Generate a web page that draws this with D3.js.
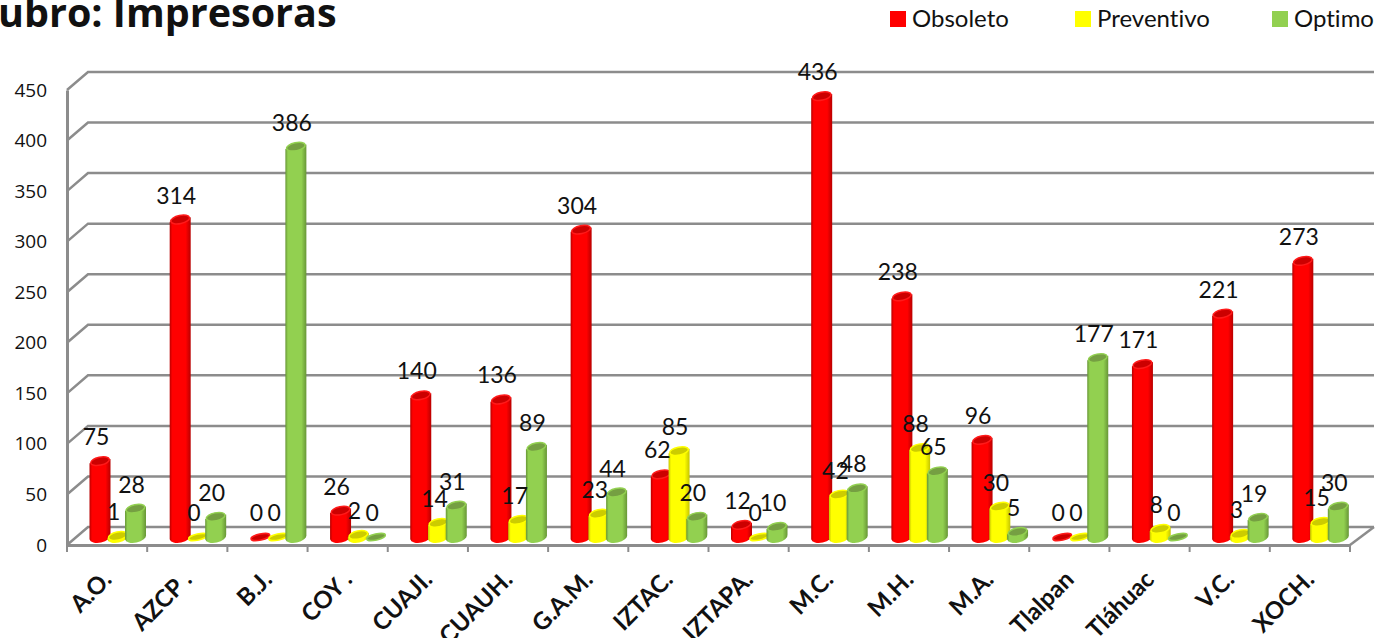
<!DOCTYPE html>
<html lang="en">
<head>
<meta charset="UTF-8">
<title>Impresoras</title>
<script src="https://d3js.org/d3.v7.min.js"></script>
<style>
  html, body { margin: 0; padding: 0; background: #fff; overflow: hidden; }
  svg { display: block; }
  text { font-family: Lato, "Open Sans", sans-serif; fill: #111; font-variant-ligatures: none; }
</style>
</head>
<body>
<script>
// data
var categories = ["A.O.", "AZCP .", "B.J.", "COY .", "CUAJI.", "CUAUH.", "G.A.M.", "IZTAC.", "IZTAPA.", "M.C.", "M.H.", "M.A.", "Tlalpan", "Tláhuac", "V.C.", "XOCH."];
var obsoleto = [75, 314, 0, 26, 140, 136, 304, 62, 12, 436, 238, 96, 0, 171, 221, 273];
var preventivo = [1, 0, 0, 2, 14, 17, 23, 85, 0, 42, 88, 30, 0, 8, 3, 15];
var optimo = [28, 20, 386, 0, 31, 89, 44, 20, 10, 48, 65, 5, 177, 0, 19, 30];
var seriesNames = ["Obsoleto", "Preventivo", "Optimo"];
var seriesValues = [obsoleto, preventivo, optimo];
var yTicks = [0, 50, 100, 150, 200, 250, 300, 350, 400, 450];

var palette = {
  Obsoleto: { main: "#ff0000", edge: "#b80000", top: "#cc0000", rim: "#ff1a1a" },
  Preventivo: { main: "#ffff00", edge: "#c4c400", top: "#cccc00", rim: "#ffff00" },
  Optimo: { main: "#92d050", edge: "#679636", top: "#759f42", rim: "#92d050" }
};

var width = 1379, height = 638;
var depthX = 21, depthY = 18, axisColor = "#8c8c8c";

var svg = d3.select("body").append("svg").attr("width", width).attr("height", height);

// front plane scales, the walls and the bars are shifted into depth from these
var x = d3.scaleBand().domain(categories).range([67, 1350]);
var y = d3.scaleLinear().domain([0, 450]).range([545, 90]);
var inner = d3.scalePoint().domain(seriesNames).range([33, 68.5]);
var barBaseShift = -8;
var barW = 21, rx = barW / 2, ry = 5.5, tilt = -12;

var defs = svg.append("defs");
seriesNames.forEach(function (s, i) {
  var g = defs.append("linearGradient").attr("id", "cyl" + i);
  g.append("stop").attr("offset", "0%").attr("stop-color", palette[s].edge);
  g.append("stop").attr("offset", "12%").attr("stop-color", palette[s].main);
  g.append("stop").attr("offset", "76%").attr("stop-color", palette[s].main);
  g.append("stop").attr("offset", "100%").attr("stop-color", palette[s].edge);
});

// walls
var walls = svg.append("g").attr("fill", "none").attr("stroke", axisColor).attr("stroke-width", 2.5);
walls.selectAll(".grid").data(yTicks).join("path").attr("class", "grid")
  .attr("d", function (d) {
    var yy = y(d);
    return "M" + x.range()[0] + "," + yy + "L" + (x.range()[0] + depthX) + "," + (yy - depthY) + "L" + (x.range()[1] + depthX + 3) + "," + (yy - depthY);
  });
walls.append("path").attr("d", "M" + x.range()[1] + "," + y(0) + "L" + (x.range()[1] + depthX + 3) + "," + (y(0) - depthY));

// axes
var xAxis = d3.axisBottom(x).tickValues([]).tickSize(0);
var gx = svg.append("g").attr("transform", "translate(0," + y(0) + ")").call(xAxis);
gx.select(".domain").attr("stroke", axisColor).attr("stroke-width", 3);
gx.selectAll(".boundary").data(d3.range(categories.length + 1)).join("line").attr("class", "boundary")
  .attr("x1", function (i) { return x.range()[0] + i * x.bandwidth(); })
  .attr("x2", function (i) { return x.range()[0] + i * x.bandwidth(); })
  .attr("y1", 0).attr("y2", 7)
  .attr("stroke", axisColor).attr("stroke-width", 2);

var yAxis = d3.axisLeft(y).tickValues(yTicks).tickSize(0).tickPadding(20);
var gy = svg.append("g").attr("transform", "translate(67,0)").call(yAxis);
gy.select(".domain").attr("stroke", axisColor).attr("stroke-width", 3);
gy.selectAll("text").style("font-size", "19px").style("font-family", "'Open Sans', sans-serif").attr("dy", "0.32em");

// category labels
svg.selectAll(".cat").data(categories).join("text").attr("class", "cat")
  .attr("text-anchor", "end")
  .style("font-size", "24px").style("font-weight", "700")
  .attr("transform", function (d) { return "translate(" + (x(d) + x.bandwidth() / 2 + 6) + ",581) rotate(-45)"; })
  .text(function (d) { return d; });

function rot(dx) { return dx * Math.sin(tilt * Math.PI / 180); }

function bodyPath(cx, top, base) {
  return "M" + (cx - rx) + "," + (top - rot(rx)) +
    "L" + (cx - rx) + "," + (base - rot(rx)) +
    "A" + rx + "," + ry + " " + tilt + " 0 0 " + (cx + rx) + "," + (base + rot(rx)) +
    "L" + (cx + rx) + "," + (top + rot(rx)) + "Z";
}

// bars, one group per series so that later ones sit over earlier ones
seriesNames.forEach(function (s, si) {
  var vals = seriesValues[si];
  var g = svg.append("g").attr("class", "series");
  var cx = function (i) { return x(categories[i]) + inner(s); };
  var top = function (d) { return y(d) + barBaseShift; };
  var base = y(0) + barBaseShift;

  g.selectAll("path").data(vals).join("path")
    .attr("d", function (d, i) { return d > 0 ? bodyPath(cx(i), top(d), base) : null; })
    .attr("fill", "url(#cyl" + si + ")");

  g.selectAll("ellipse").data(vals).join("ellipse")
    .attr("cx", 0).attr("cy", 0)
    .attr("rx", rx - 1).attr("ry", function (d) { return d > 0 ? ry - 1.5 : 3; })
    .attr("transform", function (d, i) { return "translate(" + cx(i) + "," + top(d) + ") rotate(" + tilt + ")"; })
    .attr("fill", palette[s].top)
    .attr("stroke", palette[s].rim).attr("stroke-width", 1.5);
});

// value labels go on top of all the bars
seriesNames.forEach(function (s, si) {
  svg.append("g").selectAll("text").data(seriesValues[si]).join("text")
    .attr("text-anchor", "middle")
    .style("font-size", "23px")
    .attr("x", function (d, i) { return x(categories[i]) + inner(s) - 4; })
    .attr("y", function (d) { return y(d) + barBaseShift - 16; })
    .text(function (d) { return d; });
});

// title, cut by the window as in the original
svg.append("text").attr("x", -2).attr("y", 27)
  .style("font-family", "'Open Sans', sans-serif").style("font-weight", "700").style("font-size", "39.5px")
  .text("ubro: Impresoras");

// legend
var legendX = d3.scaleOrdinal().domain(seriesNames).range([890, 1075, 1272]);
var lg = svg.selectAll(".legend").data(seriesNames).join("g").attr("class", "legend")
  .attr("transform", function (d) { return "translate(" + legendX(d) + ",11)"; });
lg.append("rect").attr("width", 16).attr("height", 16).attr("fill", function (d) { return palette[d].main; });
lg.append("text").attr("x", 22).attr("y", 16).style("font-size", "24px").text(function (d) { return d; });
</script>
</body>
</html>
